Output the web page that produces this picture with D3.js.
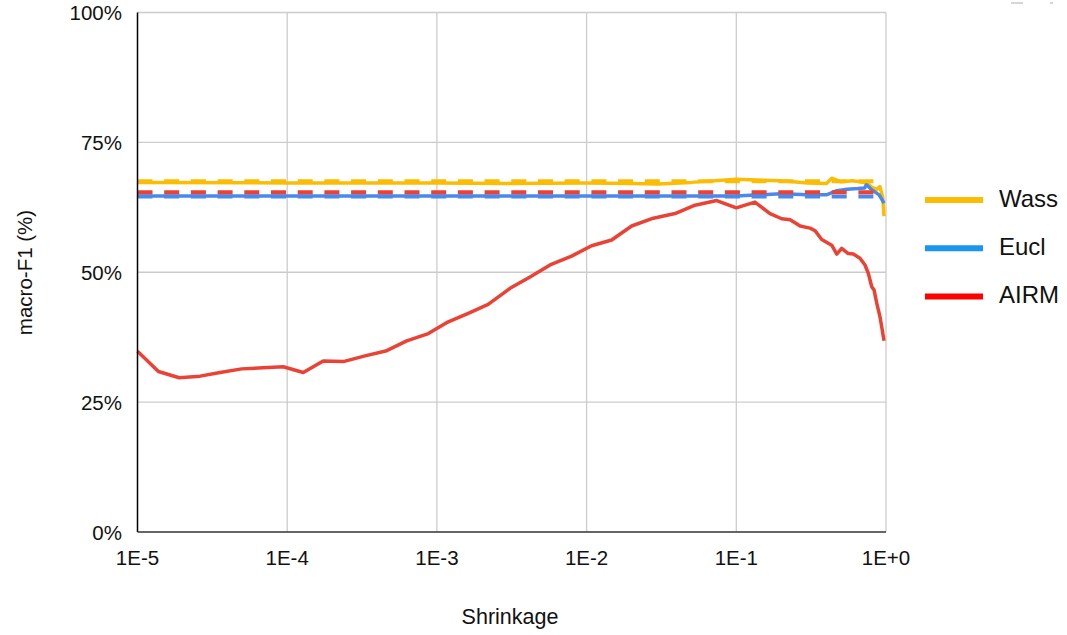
<!DOCTYPE html>
<html><head><meta charset="utf-8">
<script src="https://cdn.jsdelivr.net/npm/d3@7"></script>
<style>body{margin:0;background:#fff}svg{display:block;font-family:"Liberation Sans",Arial,sans-serif}</style>
</head><body><svg id="c" width="1067" height="635"></svg>
<script>
// ---- data ----
const xTicks = [1e-5, 1e-4, 1e-3, 1e-2, 1e-1, 1];
const xTickLabels = ["1E-5", "1E-4", "1E-3", "1E-2", "1E-1", "1E+0"];
const yTicks = [0, 25, 50, 75, 100];
const yTickLabels = ["0%", "25%", "50%", "75%", "100%"];
const seriesNames = ["Wass", "Eucl", "AIRM"];

const airmX = [1e-5,1.38e-5,1.9e-5,2.62e-5,3.56e-5,4.97e-5,6.92e-5,9.41e-5,1.28e-4,1.74e-4,2.37e-4,3.31e-4,4.62e-4,6.29e-4,8.77e-4,
  1.16e-3,1.62e-3,2.2e-3,3.08e-3,4.19e-3,5.7e-3,7.94e-3,1.08e-2,1.47e-2,2.0e-2,2.79e-2,3.9e-2,5.3e-2,7.4e-2,0.1,0.133,0.168,0.201,0.229,
  0.267,0.311,0.336,0.372,0.434,0.469,0.506,0.56,0.605,0.67,0.724,0.762,0.803,0.832,0.868,0.912,0.936,0.97];
const airmY = [34.8,30.9,29.7,30.0,30.7,31.4,31.6,31.8,30.7,32.9,32.8,33.9,34.9,36.8,38.2,
  40.3,42.1,43.8,46.9,49.1,51.4,53.1,55.1,56.2,58.9,60.4,61.3,62.9,63.8,62.4,63.5,61.3,60.3,60.1,
  58.9,58.5,58.0,56.3,55.2,53.5,54.6,53.6,53.5,52.7,51.4,49.8,47.2,46.6,44.0,41.4,39.5,36.8];

const wassX = [1e-5,1e-4,1e-3,3e-3,1e-2,2e-2,3e-2,5e-2,0.1,0.2,0.3,0.4,0.434,0.5,0.6,0.7,0.75,0.8,0.87,0.91,0.95,0.97];
const wassY = [67.3,67.2,67.2,67.1,67.2,67.1,67.0,67.3,67.9,67.6,67.2,67.1,68.1,67.4,67.6,67.3,67.1,66.4,65.9,66.5,64.5,60.8];

const euclX = [1e-5,1e-4,1e-3,1e-2,0.1,0.2,0.3,0.4,0.47,0.55,0.65,0.72,0.74,0.8,0.9,0.97];
const euclY = [64.7,64.7,64.7,64.7,64.7,65.1,64.9,64.9,65.7,66.0,66.1,66.2,66.9,65.9,64.9,63.3];

const dashX = [1e-5, 0.97];
const wassBase = [67.5, 67.5];
const euclBase = [64.6, 64.6];
const airmBase = [65.4, 65.4];

// ---- chart ----
const svg = d3.select("#c");
const x = d3.scaleLog().domain([1e-5, 1]).range([137.5, 886]);
const y = d3.scaleLinear().domain([0, 100]).range([532, 12.5]);

const grid = svg.append("g");
grid.selectAll("line.h").data(yTicks.filter(d => d > 0)).join("line")
  .attr("x1", 137.5).attr("x2", 886).attr("y1", d => y(d)).attr("y2", d => y(d))
  .attr("stroke", "#cccccc").attr("stroke-width", 1.3);
grid.selectAll("line.v").data(xTicks.slice(1)).join("line")
  .attr("x1", d => x(d)).attr("x2", d => x(d)).attr("y1", y(100)).attr("y2", y(0))
  .attr("stroke", "#cccccc").attr("stroke-width", 1.3);

const line = d3.line().x(d => x(d[0])).y(d => y(d[1]));
const zip = (a, b) => a.map((v, i) => [v, b[i]]);

const solid = [
  {xs: wassX, ys: wassY, c: "#fbbc04"},
  {xs: euclX, ys: euclY, c: "#4a89ec"},
  {xs: airmX, ys: airmY, c: "#ea4335"}
];
const dashed = [
  {xs: dashX, ys: wassBase, c: "#fbbc04"},
  {xs: dashX, ys: euclBase, c: "#4a89ec"},
  {xs: dashX, ys: airmBase, c: "#ea4335"}
];
solid.forEach(s => svg.append("path").attr("d", line(zip(s.xs, s.ys)))
  .attr("fill", "none").attr("stroke", s.c).attr("stroke-width", 3.5).attr("stroke-linejoin", "round"));
dashed.forEach(s => svg.append("path").attr("d", line(zip(s.xs, s.ys)))
  .attr("fill", "none").attr("stroke", s.c).attr("stroke-width", 4).attr("stroke-dasharray", "15,11.7"));

// axes lines
svg.append("line").attr("x1", 137.5).attr("x2", 137.5).attr("y1", y(100)).attr("y2", y(0)).attr("stroke", "#000").attr("stroke-width", 1.5);
svg.append("line").attr("x1", 137.5).attr("x2", 886).attr("y1", y(0)).attr("y2", y(0)).attr("stroke", "#333").attr("stroke-width", 1.5);

// tick labels
svg.selectAll("text.yt").data(yTicks).join("text")
  .attr("x", 122).attr("y", d => y(d) + 7.5).attr("text-anchor", "end")
  .attr("font-size", 20.5).attr("fill", "#111").text((d, i) => yTickLabels[i]);
svg.selectAll("text.xt").data(xTicks).join("text")
  .attr("x", d => x(d)).attr("y", 565).attr("text-anchor", "middle")
  .attr("font-size", 20.5).attr("fill", "#111").text((d, i) => xTickLabels[i]);

// titles
svg.append("text").attr("x", 510).attr("y", 624).attr("text-anchor", "middle")
  .attr("font-size", 21.5).attr("fill", "#111").text("Shrinkage");
svg.append("text").attr("transform", "translate(32,272.5) rotate(-90)").attr("text-anchor", "middle")
  .attr("font-size", 20.5).attr("fill", "#111").text("macro-F1 (%)");

// legend
const legColors = ["#fbbc04", "#1a96f0", "#ff0000"];
const lg = svg.append("g");
seriesNames.forEach((n, i) => {
  const yy = 200 + i * 48.3;
  lg.append("line").attr("x1", 925).attr("x2", 983).attr("y1", yy).attr("y2", yy)
    .attr("stroke", legColors[i]).attr("stroke-width", 6);
  lg.append("text").attr("x", 999).attr("y", yy + 6.7).attr("font-size", 24).attr("fill", "#111").text(n);
});

// top-right faint marks
svg.append("line").attr("x1", 1011).attr("x2", 1023).attr("y1", 3).attr("y2", 3).attr("stroke", "#bbb").attr("stroke-width", 1.2);
svg.append("line").attr("x1", 1050).attr("x2", 1053).attr("y1", 3).attr("y2", 3).attr("stroke", "#bbb").attr("stroke-width", 1.2);
</script></body></html>
